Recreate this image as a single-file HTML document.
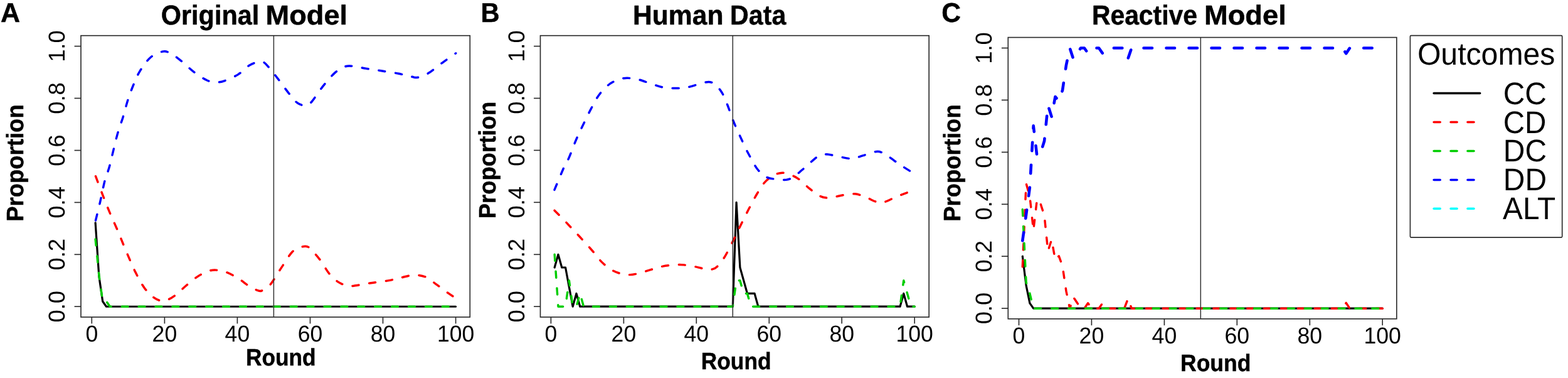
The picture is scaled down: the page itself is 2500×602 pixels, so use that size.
<!DOCTYPE html>
<html lang="en"><head><meta charset="utf-8"><title>Outcome proportions by round</title>
<style>
html,body{margin:0;padding:0;background:#fff;}
body{width:2500px;height:602px;overflow:hidden;}
svg{display:block;}
text{font-family:"Liberation Sans",sans-serif;fill:#000;text-rendering:geometricPrecision;}
.b{font-weight:bold;stroke:#000;stroke-width:0.5px;stroke-linejoin:round;}
.tk{font-size:36.7px;}
.ax{stroke:#2a2a2a;stroke-width:1.65;fill:none;}
.ln{fill:none;stroke-linejoin:round;}
</style></head><body>
<svg width="2500" height="602" viewBox="0 0 2500 602" role="img" aria-label="Outcome proportions by round">
<rect x="0" y="0" width="2500" height="602" fill="#fff"/>
<g id="panel-A">
<path class="ln" d="M152.10,354.73L157.91,440.57L163.71,479.96L169.51,488.25L175.31,488.25L181.12,488.25L186.92,488.25L192.72,488.25L198.53,488.25L204.33,488.25L210.13,488.25L215.94,488.25L221.74,488.25L227.54,488.25L233.35,488.25L239.15,488.25L244.95,488.25L250.75,488.25L256.56,488.25L262.36,488.25L268.16,488.25L273.97,488.25L279.77,488.25L285.57,488.25L291.38,488.25L297.18,488.25L302.98,488.25L308.78,488.25L314.59,488.25L320.39,488.25L326.19,488.25L332,488.25L337.80,488.25L343.60,488.25L349.40,488.25L355.21,488.25L361.01,488.25L366.81,488.25L372.62,488.25L378.42,488.25L384.22,488.25L390.03,488.25L395.83,488.25L401.63,488.25L407.44,488.25L413.24,488.25L419.04,488.25L424.84,488.25L430.65,488.25L436.45,488.25L442.25,488.25L448.06,488.25L453.86,488.25L459.66,488.25L465.47,488.25L471.27,488.25L477.07,488.25L482.87,488.25L488.68,488.25L494.48,488.25L500.28,488.25L506.09,488.25L511.89,488.25L517.69,488.25L523.50,488.25L529.30,488.25L535.10,488.25L540.90,488.25L546.71,488.25L552.51,488.25L558.31,488.25L564.12,488.25L569.92,488.25L575.72,488.25L581.53,488.25L587.33,488.25L593.13,488.25L598.93,488.25L604.74,488.25L610.54,488.25L616.34,488.25L622.15,488.25L627.95,488.25L633.75,488.25L639.56,488.25L645.36,488.25L651.16,488.25L656.96,488.25L662.77,488.25L668.57,488.25L674.37,488.25L680.18,488.25L685.98,488.25L691.78,488.25L697.59,488.25L703.39,488.25L709.19,488.25L714.99,488.25L720.80,488.25L726.60,488.25" stroke="#000000" stroke-width="3.20" stroke-linecap="round"/>
<path class="ln" d="M152.5,280.7C154.3,285.6 159.8,300.3 163.5,309.8C167.2,319.3 170.6,328.2 174.7,337.8C178.8,347.4 183.4,357.4 187.8,367.7C192.2,378.0 196.2,388.6 200.9,399.5C205.6,410.4 210.8,423.2 215.8,433.1C220.8,443.1 225.7,452.4 230.7,459.2C235.7,466.0 241.3,470.9 245.7,474.2C250.1,477.5 253.5,478.4 256.9,479.0C260.3,479.6 262.5,479.3 266.2,477.9C269.9,476.5 274.3,474.1 279.3,470.4C284.3,466.7 290.2,460.5 296.1,455.5C302.0,450.5 308.9,444.5 314.8,440.6C320.7,436.7 326.6,433.8 331.6,432.0C336.6,430.2 339.7,429.8 344.7,430.1C349.7,430.4 355.6,431.6 361.5,433.8C367.4,436.1 374.3,440.0 380.2,443.6C386.1,447.2 391.9,452.4 396.8,455.5C401.8,458.6 406.5,460.9 409.9,462.2C413.3,463.4 414.3,464.1 417.4,463.0C420.5,461.9 425.5,458.3 428.6,455.5C431.7,452.7 432.6,451.2 436.0,446.2C439.4,441.2 444.1,433.1 449.1,425.6C454.1,418.1 460.9,406.6 465.9,401.3C470.9,396.0 474.9,395.3 479.0,393.9C483.1,392.5 486.8,391.6 490.2,392.8C493.6,394.0 496.1,397.7 499.5,401.3C502.9,404.9 506.3,408.5 510.7,414.4C515.1,420.3 520.7,430.9 525.7,436.8C530.7,442.7 535.6,446.8 540.6,449.9C545.6,453.0 551.2,454.7 555.6,455.5C560.0,456.3 561.2,455.6 566.8,454.8C572.4,454.1 580.5,452.3 589.2,451.0C597.9,449.7 610.3,448.4 619.0,446.9C627.7,445.3 634.6,443.2 641.5,441.7C648.4,440.2 653.9,438.1 660.2,438.0C666.5,437.9 673.6,439.0 679.3,441.3C685.0,443.6 689.2,448.2 694.2,451.8C699.2,455.4 703.8,459.1 709.2,463.0C714.6,466.9 723.8,473.0 726.7,475.0" stroke="#ff0000" stroke-width="3.45" stroke-dasharray="10.09 16.81" stroke-linecap="round"/>
<path class="ln" d="M152.10,380.86L157.91,438.49L163.71,479.96L169.51,479.96L175.31,488.25L181.12,488.25L186.92,488.25L192.72,488.25L198.53,488.25L204.33,488.25L210.13,488.25L215.94,488.25L221.74,488.25L227.54,488.25L233.35,488.25L239.15,488.25L244.95,488.25L250.75,488.25L256.56,488.25L262.36,488.25L268.16,488.25L273.97,488.25L279.77,488.25L285.57,488.25L291.38,488.25L297.18,488.25L302.98,488.25L308.78,488.25L314.59,488.25L320.39,488.25L326.19,488.25L332,488.25L337.80,488.25L343.60,488.25L349.40,488.25L355.21,488.25L361.01,488.25L366.81,488.25L372.62,488.25L378.42,488.25L384.22,488.25L390.03,488.25L395.83,488.25L401.63,488.25L407.44,488.25L413.24,488.25L419.04,488.25L424.84,488.25L430.65,488.25L436.45,488.25L442.25,488.25L448.06,488.25L453.86,488.25L459.66,488.25L465.47,488.25L471.27,488.25L477.07,488.25L482.87,488.25L488.68,488.25L494.48,488.25L500.28,488.25L506.09,488.25L511.89,488.25L517.69,488.25L523.50,488.25L529.30,488.25L535.10,488.25L540.90,488.25L546.71,488.25L552.51,488.25L558.31,488.25L564.12,488.25L569.92,488.25L575.72,488.25L581.53,488.25L587.33,488.25L593.13,488.25L598.93,488.25L604.74,488.25L610.54,488.25L616.34,488.25L622.15,488.25L627.95,488.25L633.75,488.25L639.56,488.25L645.36,488.25L651.16,488.25L656.96,488.25L662.77,488.25L668.57,488.25L674.37,488.25L680.18,488.25L685.98,488.25L691.78,488.25L697.59,488.25L703.39,488.25L709.19,488.25L714.99,488.25L720.80,488.25L726.60,488.25" stroke="#00cd00" stroke-width="3.45" stroke-dasharray="10.09 16.81" stroke-linecap="round"/>
<path class="ln" d="M152.5,351.0C153.7,346.0 157.4,331.6 159.8,321.0C162.2,310.4 164.7,296.8 167.2,287.4C169.7,278.0 171.4,276.5 174.7,264.5C177.9,252.5 183.1,228.7 186.7,215.6C190.3,202.5 193.6,195.0 196.4,185.7C199.2,176.3 201.2,167.6 203.8,159.5C206.4,151.4 208.8,144.8 212.0,137.0C215.2,129.2 218.6,120.4 223.3,112.8C228.0,105.2 234.1,96.6 240.0,91.5C245.9,86.4 253.8,83.5 258.8,82.2C263.8,81.0 265.3,81.8 270.0,84.0C274.7,86.2 280.3,90.2 286.8,95.3C293.3,100.4 302.1,109.3 309.2,114.7C316.3,120.1 323.8,125.1 329.7,127.8C335.6,130.5 340.0,130.6 344.7,130.8C349.4,131.0 351.8,131.0 357.7,128.9C363.6,126.8 373.2,122.6 380.0,118.4C386.8,114.2 392.5,106.8 398.7,103.5C404.9,100.2 412.4,97.7 417.4,98.3C422.4,98.9 424.2,102.6 428.6,107.2C433.0,111.8 438.2,119.1 443.5,125.9C448.8,132.8 455.3,142.1 460.3,148.3C465.3,154.5 469.0,160.0 473.4,163.3C477.8,166.6 482.8,168.1 486.5,168.1C490.2,168.1 491.1,168.3 495.8,163.3C500.5,158.3 508.3,145.7 514.5,137.9C520.7,130.1 527.3,121.9 533.2,116.6C539.1,111.3 545.0,108.0 550.0,106.1C555.0,104.2 557.4,104.9 563.0,105.4C568.6,105.9 576.1,107.9 583.6,109.1C591.1,110.3 599.2,111.4 607.9,112.8C616.6,114.2 627.8,115.7 635.9,117.3C644.0,118.9 651.3,121.2 656.4,122.2C661.5,123.2 661.8,124.2 666.2,123.3C670.6,122.4 676.5,120.5 683.0,116.6C689.5,112.7 698.2,105.1 705.5,99.8C712.8,94.5 723.2,87.3 726.7,84.8" stroke="#0000ff" stroke-width="3.45" stroke-dasharray="10.09 16.81" stroke-linecap="round"/>
<line x1="436.4" y1="56.7" x2="436.4" y2="505.0" stroke="#333" stroke-width="1.50"/>
<rect class="ax" x="129.0" y="56.7" width="620.3" height="448.3"/>
<line class="ax" x1="146.3" y1="505.0" x2="146.3" y2="515.4"/>
<text class="tk" transform="translate(146.3,543.9) scale(0.970,1)" text-anchor="middle">0</text>
<line class="ax" x1="262.4" y1="505.0" x2="262.4" y2="515.4"/>
<text class="tk" transform="translate(262.4,543.9) scale(0.970,1)" text-anchor="middle">20</text>
<line class="ax" x1="378.4" y1="505.0" x2="378.4" y2="515.4"/>
<text class="tk" transform="translate(378.4,543.9) scale(0.970,1)" text-anchor="middle">40</text>
<line class="ax" x1="494.5" y1="505.0" x2="494.5" y2="515.4"/>
<text class="tk" transform="translate(494.5,543.9) scale(0.970,1)" text-anchor="middle">60</text>
<line class="ax" x1="610.5" y1="505.0" x2="610.5" y2="515.4"/>
<text class="tk" transform="translate(610.5,543.9) scale(0.970,1)" text-anchor="middle">80</text>
<line class="ax" x1="726.6" y1="505.0" x2="726.6" y2="515.4"/>
<text class="tk" transform="translate(726.6,543.9) scale(0.970,1)" text-anchor="middle">100</text>
<line class="ax" x1="118.6" y1="488.2" x2="129.0" y2="488.2"/>
<text class="tk" transform="translate(103.0,488.2) rotate(-90) scale(0.990,1)" text-anchor="middle">0.0</text>
<line class="ax" x1="118.6" y1="405.3" x2="129.0" y2="405.3"/>
<text class="tk" transform="translate(103.0,405.3) rotate(-90) scale(0.990,1)" text-anchor="middle">0.2</text>
<line class="ax" x1="118.6" y1="322.4" x2="129.0" y2="322.4"/>
<text class="tk" transform="translate(103.0,322.4) rotate(-90) scale(0.990,1)" text-anchor="middle">0.4</text>
<line class="ax" x1="118.6" y1="239.5" x2="129.0" y2="239.5"/>
<text class="tk" transform="translate(103.0,239.5) rotate(-90) scale(0.990,1)" text-anchor="middle">0.6</text>
<line class="ax" x1="118.6" y1="156.5" x2="129.0" y2="156.5"/>
<text class="tk" transform="translate(103.0,156.5) rotate(-90) scale(0.990,1)" text-anchor="middle">0.8</text>
<line class="ax" x1="118.6" y1="73.6" x2="129.0" y2="73.6"/>
<text class="tk" transform="translate(103.0,73.6) rotate(-90) scale(0.990,1)" text-anchor="middle">1.0</text>
</g>
<g id="panel-B">
<path class="ln" d="M884.20,426L890,405.27L895.79,426L901.59,426L907.39,457.10L913.19,488.20L918.99,467.47L924.78,488.20L930.58,488.20L936.38,488.20L942.18,488.20L947.98,488.20L953.77,488.20L959.57,488.20L965.37,488.20L971.17,488.20L976.97,488.20L982.76,488.20L988.56,488.20L994.36,488.20L1000.16,488.20L1005.96,488.20L1011.75,488.20L1017.55,488.20L1023.35,488.20L1029.15,488.20L1034.95,488.20L1040.74,488.20L1046.54,488.20L1052.34,488.20L1058.14,488.20L1063.94,488.20L1069.73,488.20L1075.53,488.20L1081.33,488.20L1087.13,488.20L1092.93,488.20L1098.72,488.20L1104.52,488.20L1110.32,488.20L1116.12,488.20L1121.92,488.20L1127.71,488.20L1133.51,488.20L1139.31,488.20L1145.11,488.20L1150.91,488.20L1156.70,488.20L1162.50,488.20L1168.30,488.20L1174.10,322.34L1179.90,426L1185.69,446.74L1191.49,467.47L1197.29,467.47L1203.09,467.47L1208.89,488.20L1214.68,488.20L1220.48,488.20L1226.28,488.20L1232.08,488.20L1237.88,488.20L1243.67,488.20L1249.47,488.20L1255.27,488.20L1261.07,488.20L1266.87,488.20L1272.66,488.20L1278.46,488.20L1284.26,488.20L1290.06,488.20L1295.86,488.20L1301.65,488.20L1307.45,488.20L1313.25,488.20L1319.05,488.20L1324.85,488.20L1330.64,488.20L1336.44,488.20L1342.24,488.20L1348.04,488.20L1353.84,488.20L1359.63,488.20L1365.43,488.20L1371.23,488.20L1377.03,488.20L1382.83,488.20L1388.62,488.20L1394.42,488.20L1400.22,488.20L1406.02,488.20L1411.82,488.20L1417.61,488.20L1423.41,488.20L1429.21,488.20L1435.01,488.20L1440.81,467.47L1446.60,488.20L1452.40,488.20L1458.20,488.20" stroke="#000000" stroke-width="3.20" stroke-linecap="round"/>
<path class="ln" d="M884.1,335.2C886.1,337.2 891.5,342.6 896.0,347.2C900.5,351.8 905.7,357.3 911.0,362.9C916.3,368.5 922.2,374.7 927.8,380.8C933.4,386.9 939.3,393.4 944.6,399.5C949.9,405.6 954.5,412.4 959.5,417.4C964.5,422.4 969.5,426.3 974.5,429.4C979.5,432.4 984.4,434.3 989.4,435.7C994.4,437.1 999.4,437.7 1004.4,437.6C1009.4,437.5 1013.7,436.4 1019.3,435.0C1024.9,433.6 1031.8,431.2 1038.0,429.4C1044.2,427.6 1050.5,425.4 1056.7,424.1C1062.9,422.9 1069.7,422.3 1075.3,421.9C1080.9,421.5 1084.7,421.4 1090.3,421.9C1095.9,422.4 1102.8,423.6 1109.0,424.9C1115.2,426.1 1123.3,428.7 1127.6,429.4C1131.9,430.1 1132.4,429.8 1135.0,429.0C1137.6,428.2 1140.0,427.9 1143.3,424.7C1146.6,421.5 1150.8,416.3 1155.0,409.7C1159.2,403.1 1164.0,393.1 1168.2,384.8C1172.4,376.5 1176.1,368.5 1180.3,360.0C1184.5,351.5 1189.0,342.2 1193.4,333.8C1197.8,325.4 1202.2,316.8 1206.5,309.5C1210.8,302.2 1214.8,295.2 1219.5,290.1C1224.2,285.0 1229.8,281.4 1234.5,278.9C1239.2,276.4 1243.2,275.3 1247.6,275.2C1251.9,275.1 1256.2,276.8 1260.6,278.5C1264.9,280.2 1268.7,281.7 1273.7,285.3C1278.7,288.9 1285.2,295.9 1290.5,300.2C1295.8,304.5 1300.8,308.9 1305.5,311.4C1310.2,313.9 1314.2,314.8 1318.5,315.1C1322.8,315.4 1326.9,314.1 1331.6,313.3C1336.3,312.5 1341.2,311.1 1346.5,310.3C1351.8,309.6 1357.8,308.2 1363.4,308.8C1369.0,309.4 1374.5,311.9 1380.2,314.0C1385.9,316.1 1392.5,320.2 1397.6,321.5C1402.7,322.8 1405.3,322.9 1410.6,321.5C1415.9,320.1 1422.6,316.1 1429.3,313.3C1436.0,310.6 1447.4,306.4 1451.0,305.0" stroke="#ff0000" stroke-width="3.45" stroke-dasharray="10.09 16.81" stroke-linecap="round"/>
<path class="ln" d="M884.20,405.27L890,488.20L895.79,488.20L901.59,488.20L907.39,446.74L913.19,488.20L918.99,488.20L924.78,467.47L930.58,488.20L936.38,488.20L942.18,488.20L947.98,488.20L953.77,488.20L959.57,488.20L965.37,488.20L971.17,488.20L976.97,488.20L982.76,488.20L988.56,488.20L994.36,488.20L1000.16,488.20L1005.96,488.20L1011.75,488.20L1017.55,488.20L1023.35,488.20L1029.15,488.20L1034.95,488.20L1040.74,488.20L1046.54,488.20L1052.34,488.20L1058.14,488.20L1063.94,488.20L1069.73,488.20L1075.53,488.20L1081.33,488.20L1087.13,488.20L1092.93,488.20L1098.72,488.20L1104.52,488.20L1110.32,488.20L1116.12,488.20L1121.92,488.20L1127.71,488.20L1133.51,488.20L1139.31,488.20L1145.11,488.20L1150.91,488.20L1156.70,488.20L1162.50,488.20L1168.30,488.20L1174.10,446.74L1179.90,446.74L1185.69,467.47L1191.49,467.47L1197.29,488.20L1203.09,488.20L1208.89,488.20L1214.68,488.20L1220.48,488.20L1226.28,488.20L1232.08,488.20L1237.88,488.20L1243.67,488.20L1249.47,488.20L1255.27,488.20L1261.07,488.20L1266.87,488.20L1272.66,488.20L1278.46,488.20L1284.26,488.20L1290.06,488.20L1295.86,488.20L1301.65,488.20L1307.45,488.20L1313.25,488.20L1319.05,488.20L1324.85,488.20L1330.64,488.20L1336.44,488.20L1342.24,488.20L1348.04,488.20L1353.84,488.20L1359.63,488.20L1365.43,488.20L1371.23,488.20L1377.03,488.20L1382.83,488.20L1388.62,488.20L1394.42,488.20L1400.22,488.20L1406.02,488.20L1411.82,488.20L1417.61,488.20L1423.41,488.20L1429.21,488.20L1435.01,488.20L1440.81,446.74L1446.60,467.47L1452.40,488.20L1458.20,488.20" stroke="#00cd00" stroke-width="3.45" stroke-dasharray="10.09 16.81" stroke-linecap="round"/>
<path class="ln" d="M884.0,302.4C886.6,296.2 895.9,273.6 899.8,265.0C903.7,256.4 904.1,258.1 907.2,251.1C910.3,244.1 914.6,231.7 918.4,223.0C922.1,214.3 925.7,207.2 929.7,198.8C933.8,190.4 938.4,180.7 942.7,172.6C947.1,164.5 950.8,156.7 955.8,150.2C960.8,143.7 967.0,137.4 972.6,133.4C978.2,129.4 984.4,127.4 989.4,125.9C994.4,124.4 997.5,124.2 1002.5,124.4C1007.5,124.6 1013.4,125.5 1019.3,127.0C1025.2,128.5 1031.8,131.4 1038.0,133.4C1044.2,135.4 1050.5,137.8 1056.7,139.0C1062.9,140.2 1069.1,140.4 1075.3,140.5C1081.5,140.6 1087.8,140.4 1094.0,139.4C1100.2,138.4 1106.8,136.0 1112.7,134.5C1118.7,133.0 1125.3,130.4 1129.7,130.4C1134.1,130.4 1135.8,131.6 1139.2,134.3C1142.7,137.0 1147.0,141.1 1150.4,146.5C1153.8,151.9 1156.7,159.3 1159.8,167.0C1162.9,174.7 1165.7,184.1 1169.1,192.5C1172.5,200.9 1176.2,208.9 1180.3,217.7C1184.3,226.4 1188.7,236.2 1193.4,245.0C1198.1,253.8 1203.3,264.0 1208.3,270.3C1213.3,276.6 1218.3,280.1 1223.3,282.6C1228.3,285.1 1233.2,284.7 1238.2,285.3C1243.2,285.9 1248.8,286.9 1253.2,286.4C1257.6,285.9 1260.1,285.0 1264.4,282.3C1268.8,279.6 1274.3,274.5 1279.3,270.3C1284.3,266.1 1289.8,260.6 1294.2,257.0C1298.6,253.4 1301.5,250.4 1305.5,248.5C1309.5,246.6 1312.9,245.5 1318.5,245.7C1324.1,245.9 1332.5,248.7 1339.1,249.8C1345.6,250.9 1351.6,252.8 1357.8,252.5C1364.0,252.2 1369.5,249.6 1376.4,247.7C1383.3,245.8 1392.7,241.3 1399.0,241.3C1405.3,241.3 1408.7,244.6 1414.4,247.9C1420.1,251.2 1426.8,256.8 1433.0,261.0C1439.2,265.2 1448.6,270.9 1451.7,272.9" stroke="#0000ff" stroke-width="3.45" stroke-dasharray="10.09 16.81" stroke-linecap="round"/>
<line x1="1168.3" y1="56.7" x2="1168.3" y2="505.0" stroke="#333" stroke-width="1.50"/>
<rect class="ax" x="861.5" y="56.7" width="619.7" height="448.3"/>
<line class="ax" x1="878.4" y1="505.0" x2="878.4" y2="515.4"/>
<text class="tk" transform="translate(878.4,543.9) scale(0.970,1)" text-anchor="middle">0</text>
<line class="ax" x1="994.4" y1="505.0" x2="994.4" y2="515.4"/>
<text class="tk" transform="translate(994.4,543.9) scale(0.970,1)" text-anchor="middle">20</text>
<line class="ax" x1="1110.3" y1="505.0" x2="1110.3" y2="515.4"/>
<text class="tk" transform="translate(1110.3,543.9) scale(0.970,1)" text-anchor="middle">40</text>
<line class="ax" x1="1226.3" y1="505.0" x2="1226.3" y2="515.4"/>
<text class="tk" transform="translate(1226.3,543.9) scale(0.970,1)" text-anchor="middle">60</text>
<line class="ax" x1="1342.2" y1="505.0" x2="1342.2" y2="515.4"/>
<text class="tk" transform="translate(1342.2,543.9) scale(0.970,1)" text-anchor="middle">80</text>
<line class="ax" x1="1458.2" y1="505.0" x2="1458.2" y2="515.4"/>
<text class="tk" transform="translate(1458.2,543.9) scale(0.970,1)" text-anchor="middle">100</text>
<line class="ax" x1="851.1" y1="488.2" x2="861.5" y2="488.2"/>
<text class="tk" transform="translate(835.5,488.2) rotate(-90) scale(0.990,1)" text-anchor="middle">0.0</text>
<line class="ax" x1="851.1" y1="405.3" x2="861.5" y2="405.3"/>
<text class="tk" transform="translate(835.5,405.3) rotate(-90) scale(0.990,1)" text-anchor="middle">0.2</text>
<line class="ax" x1="851.1" y1="322.3" x2="861.5" y2="322.3"/>
<text class="tk" transform="translate(835.5,322.3) rotate(-90) scale(0.990,1)" text-anchor="middle">0.4</text>
<line class="ax" x1="851.1" y1="239.4" x2="861.5" y2="239.4"/>
<text class="tk" transform="translate(835.5,239.4) rotate(-90) scale(0.990,1)" text-anchor="middle">0.6</text>
<line class="ax" x1="851.1" y1="156.5" x2="861.5" y2="156.5"/>
<text class="tk" transform="translate(835.5,156.5) rotate(-90) scale(0.990,1)" text-anchor="middle">0.8</text>
<line class="ax" x1="851.1" y1="73.6" x2="861.5" y2="73.6"/>
<text class="tk" transform="translate(835.5,73.6) rotate(-90) scale(0.990,1)" text-anchor="middle">1.0</text>
</g>
<g id="panel-C">
<path class="ln" d="M1630.30,408.22L1636.09,454.66L1641.89,482.86L1647.69,491.15L1653.48,491.15L1659.28,491.15L1665.08,491.15L1670.88,491.15L1676.67,491.15L1682.47,491.15L1688.27,491.15L1694.06,491.15L1699.86,491.15L1705.66,491.15L1711.45,491.15L1717.25,491.15L1723.05,491.15L1728.85,491.15L1734.64,491.15L1740.44,491.15L1746.24,491.15L1752.03,491.15L1757.83,491.15L1763.63,491.15L1769.42,491.15L1775.22,491.15L1781.02,491.15L1786.82,491.15L1792.61,491.15L1798.41,491.15L1804.21,491.15L1810,491.15L1815.80,491.15L1821.60,491.15L1827.39,491.15L1833.19,491.15L1838.99,491.15L1844.79,491.15L1850.58,491.15L1856.38,491.15L1862.18,491.15L1867.97,491.15L1873.77,491.15L1879.57,491.15L1885.37,491.15L1891.16,491.15L1896.96,491.15L1902.76,491.15L1908.55,491.15L1914.35,491.15L1920.15,491.15L1925.94,491.15L1931.74,491.15L1937.54,491.15L1943.34,491.15L1949.13,491.15L1954.93,491.15L1960.73,491.15L1966.52,491.15L1972.32,491.15L1978.12,491.15L1983.91,491.15L1989.71,491.15L1995.51,491.15L2001.31,491.15L2007.10,491.15L2012.90,491.15L2018.70,491.15L2024.49,491.15L2030.29,491.15L2036.09,491.15L2041.88,491.15L2047.68,491.15L2053.48,491.15L2059.28,491.15L2065.07,491.15L2070.87,491.15L2076.67,491.15L2082.46,491.15L2088.26,491.15L2094.06,491.15L2099.85,491.15L2105.65,491.15L2111.45,491.15L2117.24,491.15L2123.04,491.15L2128.84,491.15L2134.64,491.15L2140.43,491.15L2146.23,491.15L2152.03,491.15L2157.82,491.15L2163.62,491.15L2169.42,491.15L2175.22,491.15L2181.01,491.15L2186.81,491.15L2192.61,491.15L2198.40,491.15L2204.20,491.15" stroke="#000000" stroke-width="3.20" stroke-linecap="round"/>
<path class="ln" d="M1630.30,424.81L1636.09,292.12L1641.89,312.85L1647.69,366.75L1653.48,317L1659.28,325.29L1665.08,343.12L1670.88,399.93L1676.67,381.68L1682.47,413.61L1688.27,407.81L1694.06,423.98L1699.86,463.37L1705.66,491.15L1711.45,473.32L1717.25,482.03L1723.05,491.15L1728.85,491.15L1734.64,482.86L1740.44,491.15L1746.24,491.15L1752.03,491.15L1757.83,482.86L1763.63,491.15L1769.42,491.15L1775.22,491.15L1781.02,491.15L1786.82,491.15L1792.61,491.15L1798.41,475.81L1804.21,491.15L1810,491.15L1815.80,491.15L1821.60,491.15L1827.39,491.15L1833.19,491.15L1838.99,491.15L1844.79,491.15L1850.58,491.15L1856.38,491.15L1862.18,491.15L1867.97,491.15L1873.77,491.15L1879.57,491.15L1885.37,491.15L1891.16,491.15L1896.96,491.15L1902.76,491.15L1908.55,491.15L1914.35,491.15L1920.15,491.15L1925.94,491.15L1931.74,491.15L1937.54,491.15L1943.34,491.15L1949.13,491.15L1954.93,491.15L1960.73,491.15L1966.52,491.15L1972.32,491.15L1978.12,491.15L1983.91,491.15L1989.71,491.15L1995.51,491.15L2001.31,491.15L2007.10,491.15L2012.90,491.15L2018.70,491.15L2024.49,491.15L2030.29,491.15L2036.09,491.15L2041.88,491.15L2047.68,491.15L2053.48,491.15L2059.28,491.15L2065.07,491.15L2070.87,491.15L2076.67,491.15L2082.46,491.15L2088.26,491.15L2094.06,491.15L2099.85,491.15L2105.65,491.15L2111.45,491.15L2117.24,491.15L2123.04,491.15L2128.84,491.15L2134.64,491.15L2140.43,491.15L2146.23,482.44L2152.03,491.15L2157.82,491.15L2163.62,491.15L2169.42,491.15L2175.22,491.15L2181.01,491.15L2186.81,491.15L2192.61,491.15L2198.40,491.15L2204.20,491.15" stroke="#ff0000" stroke-width="3.45" stroke-dasharray="10.09 16.81" stroke-linecap="round"/>
<path class="ln" d="M1630.30,333.58L1636.09,449.68L1641.89,467.51L1647.69,491.15L1653.48,491.15L1659.28,491.15L1665.08,491.15L1670.88,491.15L1676.67,491.15L1682.47,491.15L1688.27,491.15L1694.06,491.15L1699.86,491.15L1705.66,491.15L1711.45,491.15L1717.25,491.15L1723.05,491.15L1728.85,491.15L1734.64,491.15L1740.44,491.15L1746.24,491.15L1752.03,491.15L1757.83,491.15L1763.63,491.15L1769.42,491.15L1775.22,491.15L1781.02,491.15L1786.82,491.15L1792.61,491.15L1798.41,491.15L1804.21,491.15L1810,491.15L1815.80,491.15L1821.60,491.15L1827.39,491.15L1833.19,491.15L1838.99,491.15L1844.79,491.15L1850.58,491.15L1856.38,491.15L1862.18,491.15L1867.97,491.15L1873.77,491.15L1879.57,491.15L1885.37,491.15L1891.16,491.15L1896.96,491.15L1902.76,491.15L1908.55,491.15L1914.35,491.15L1920.15,491.15L1925.94,491.15L1931.74,491.15L1937.54,491.15L1943.34,491.15L1949.13,491.15L1954.93,491.15L1960.73,491.15L1966.52,491.15L1972.32,491.15L1978.12,491.15L1983.91,491.15L1989.71,491.15L1995.51,491.15L2001.31,491.15L2007.10,491.15L2012.90,491.15L2018.70,491.15L2024.49,491.15L2030.29,491.15L2036.09,491.15L2041.88,491.15L2047.68,491.15L2053.48,491.15L2059.28,491.15L2065.07,491.15L2070.87,491.15L2076.67,491.15L2082.46,491.15L2088.26,491.15L2094.06,491.15L2099.85,491.15L2105.65,491.15L2111.45,491.15L2117.24,491.15L2123.04,491.15L2128.84,491.15L2134.64,491.15L2140.43,491.15L2146.23,491.15L2152.03,491.15L2157.82,491.15L2163.62,491.15L2169.42,491.15L2175.22,491.15L2181.01,491.15L2186.81,491.15L2192.61,491.15L2198.40,491.15L2204.20,491.15" stroke="#00cd00" stroke-width="3.45" stroke-dasharray="10.09 16.81" stroke-linecap="round"/>
<path class="ln" d="M1630.30,383.34L1636.09,341.88L1641.89,298.34L1647.69,200.27L1653.48,249.41L1659.28,243.19L1665.08,224.53L1670.88,167.72L1676.67,185.97L1682.47,154.04L1688.27,161.09L1694.06,143.67L1699.86,104.28L1705.66,76.50L1711.45,94.33L1717.25,85.62L1723.05,76.50L1728.85,76.50L1734.64,84.79L1740.44,76.50L1746.24,76.50L1752.03,76.50L1757.83,84.79L1763.63,76.50L1769.42,76.50L1775.22,76.50L1781.02,76.50L1786.82,76.50L1792.61,76.50L1798.41,93.50L1804.21,76.50L1810,76.50L1815.80,76.50L1821.60,76.50L1827.39,76.50L1833.19,76.50L1838.99,76.50L1844.79,76.50L1850.58,76.50L1856.38,76.50L1862.18,76.50L1867.97,76.50L1873.77,76.50L1879.57,76.50L1885.37,76.50L1891.16,76.50L1896.96,76.50L1902.76,76.50L1908.55,76.50L1914.35,76.50L1920.15,76.50L1925.94,76.50L1931.74,76.50L1937.54,76.50L1943.34,76.50L1949.13,76.50L1954.93,76.50L1960.73,76.50L1966.52,76.50L1972.32,76.50L1978.12,76.50L1983.91,76.50L1989.71,76.50L1995.51,76.50L2001.31,76.50L2007.10,76.50L2012.90,76.50L2018.70,76.50L2024.49,76.50L2030.29,76.50L2036.09,76.50L2041.88,76.50L2047.68,76.50L2053.48,76.50L2059.28,76.50L2065.07,76.50L2070.87,76.50L2076.67,76.50L2082.46,76.50L2088.26,76.50L2094.06,76.50L2099.85,76.50L2105.65,76.50L2111.45,76.50L2117.24,76.50L2123.04,76.50L2128.84,76.50L2134.64,76.50L2140.43,76.50L2146.23,85.21L2152.03,76.50L2157.82,76.50L2163.62,76.50L2169.42,76.50L2175.22,76.50L2181.01,76.50L2186.81,76.50L2192.61,76.50L2198.40,76.50L2204.20,76.50" stroke="#0000ff" stroke-width="4.60" stroke-dasharray="13.5 22.5" stroke-linecap="round"/>
<line x1="1914.3" y1="59.6" x2="1914.3" y2="507.9" stroke="#333" stroke-width="1.50"/>
<rect class="ax" x="1607.3" y="59.6" width="619.5" height="448.2"/>
<line class="ax" x1="1624.5" y1="507.9" x2="1624.5" y2="518.2"/>
<text class="tk" transform="translate(1624.5,546.8) scale(0.970,1)" text-anchor="middle">0</text>
<line class="ax" x1="1740.4" y1="507.9" x2="1740.4" y2="518.2"/>
<text class="tk" transform="translate(1740.4,546.8) scale(0.970,1)" text-anchor="middle">20</text>
<line class="ax" x1="1856.4" y1="507.9" x2="1856.4" y2="518.2"/>
<text class="tk" transform="translate(1856.4,546.8) scale(0.970,1)" text-anchor="middle">40</text>
<line class="ax" x1="1972.3" y1="507.9" x2="1972.3" y2="518.2"/>
<text class="tk" transform="translate(1972.3,546.8) scale(0.970,1)" text-anchor="middle">60</text>
<line class="ax" x1="2088.3" y1="507.9" x2="2088.3" y2="518.2"/>
<text class="tk" transform="translate(2088.3,546.8) scale(0.970,1)" text-anchor="middle">80</text>
<line class="ax" x1="2204.2" y1="507.9" x2="2204.2" y2="518.2"/>
<text class="tk" transform="translate(2204.2,546.8) scale(0.970,1)" text-anchor="middle">100</text>
<line class="ax" x1="1596.9" y1="491.1" x2="1607.3" y2="491.1"/>
<text class="tk" transform="translate(1581.3,491.1) rotate(-90) scale(0.990,1)" text-anchor="middle">0.0</text>
<line class="ax" x1="1596.9" y1="408.2" x2="1607.3" y2="408.2"/>
<text class="tk" transform="translate(1581.3,408.2) rotate(-90) scale(0.990,1)" text-anchor="middle">0.2</text>
<line class="ax" x1="1596.9" y1="325.3" x2="1607.3" y2="325.3"/>
<text class="tk" transform="translate(1581.3,325.3) rotate(-90) scale(0.990,1)" text-anchor="middle">0.4</text>
<line class="ax" x1="1596.9" y1="242.4" x2="1607.3" y2="242.4"/>
<text class="tk" transform="translate(1581.3,242.4) rotate(-90) scale(0.990,1)" text-anchor="middle">0.6</text>
<line class="ax" x1="1596.9" y1="159.4" x2="1607.3" y2="159.4"/>
<text class="tk" transform="translate(1581.3,159.4) rotate(-90) scale(0.990,1)" text-anchor="middle">0.8</text>
<line class="ax" x1="1596.9" y1="76.5" x2="1607.3" y2="76.5"/>
<text class="tk" transform="translate(1581.3,76.5) rotate(-90) scale(0.990,1)" text-anchor="middle">1.0</text>
</g>
<text class="b" transform="translate(1.1,34.8) scale(0.9957,1.0000)" font-size="43.2" text-anchor="start">A</text>
<text class="b" transform="translate(766.6,34.9) scale(0.9613,1.0000)" font-size="43.3" text-anchor="start">B</text>
<text class="b" transform="translate(1501.2,34.9) scale(0.9834,1.0000)" font-size="43.3" text-anchor="start">C</text>
<text class="b" transform="translate(256.8,39.2) scale(0.9498,1.0000)" font-size="43.6" text-anchor="start">Original</text>
<text class="b" transform="translate(423.6,39.2) scale(1.0366,1.0000)" font-size="43.6" text-anchor="start">Model</text>
<text class="b" transform="translate(1008.9,39.3) scale(0.9782,1.0000)" font-size="43.6" text-anchor="start">Human</text>
<text class="b" transform="translate(1164.1,39.3) scale(0.9456,1.0000)" font-size="43.6" text-anchor="start">Data</text>
<text class="b" transform="translate(1741.0,39.3) scale(0.9362,1.0000)" font-size="43.6" text-anchor="start">Reactive</text>
<text class="b" transform="translate(1919.9,39.3) scale(1.0391,1.0000)" font-size="43.6" text-anchor="start">Model</text>
<text class="b" transform="translate(391.9,582.4) scale(0.9337,1.0000)" font-size="37.8" text-anchor="start">Round</text>
<text class="b" transform="translate(1117.8,588.1) scale(0.9337,1.0000)" font-size="37.8" text-anchor="start">Round</text>
<text class="b" transform="translate(1882.1,591.4) scale(0.9380,1.0000)" font-size="37.8" text-anchor="start">Round</text>
<text class="b" transform="translate(37.0,352.8) rotate(-90) scale(0.9655,1.0000)" font-size="37.8" text-anchor="start">Proportion</text>
<text class="b" transform="translate(790.3,348.3) rotate(-90) scale(0.9655,1.0000)" font-size="37.8" text-anchor="start">Proportion</text>
<text class="b" transform="translate(1530.6,352.8) rotate(-90) scale(0.9655,1.0000)" font-size="37.8" text-anchor="start">Proportion</text>
<text transform="translate(2259.9,102.5) scale(0.9671,1.0000)" font-size="49.8" text-anchor="start">Outcomes</text>
<text transform="translate(2396.7,165.6) scale(0.9613,1.0000)" font-size="49.8" text-anchor="start">CC</text>
<text transform="translate(2396.7,211.5) scale(0.9547,1.0000)" font-size="49.8" text-anchor="start">CD</text>
<text transform="translate(2396.8,257.4) scale(0.9621,1.0000)" font-size="49.8" text-anchor="start">DC</text>
<text transform="translate(2396.8,303.3) scale(0.9615,1.0000)" font-size="49.8" text-anchor="start">DD</text>
<text transform="translate(2396.1,349.2) scale(0.9593,1.0000)" font-size="49.8" text-anchor="start">ALT</text>
<g id="legend">
<rect class="ax" x="2248.4" y="56.6" width="242.3" height="321.5" rx="1.5" ry="1.5"/>
<line x1="2286.1" y1="148.6" x2="2359.6" y2="148.6" stroke="#000000" stroke-width="3.50" stroke-linecap="round"/>
<line x1="2286.1" y1="194.5" x2="2359.6" y2="194.5" stroke="#ff0000" stroke-width="3.50" stroke-dasharray="10.09 16.81" stroke-linecap="round"/>
<line x1="2286.1" y1="240.4" x2="2359.6" y2="240.4" stroke="#00cd00" stroke-width="3.50" stroke-dasharray="10.09 16.81" stroke-linecap="round"/>
<line x1="2286.1" y1="286.4" x2="2359.6" y2="286.4" stroke="#0000ff" stroke-width="3.50" stroke-dasharray="10.09 16.81" stroke-linecap="round"/>
<line x1="2286.1" y1="332.3" x2="2359.6" y2="332.3" stroke="#00ffff" stroke-width="3.50" stroke-dasharray="10.09 16.81" stroke-linecap="round"/>
</g>
</svg>
</body></html>
